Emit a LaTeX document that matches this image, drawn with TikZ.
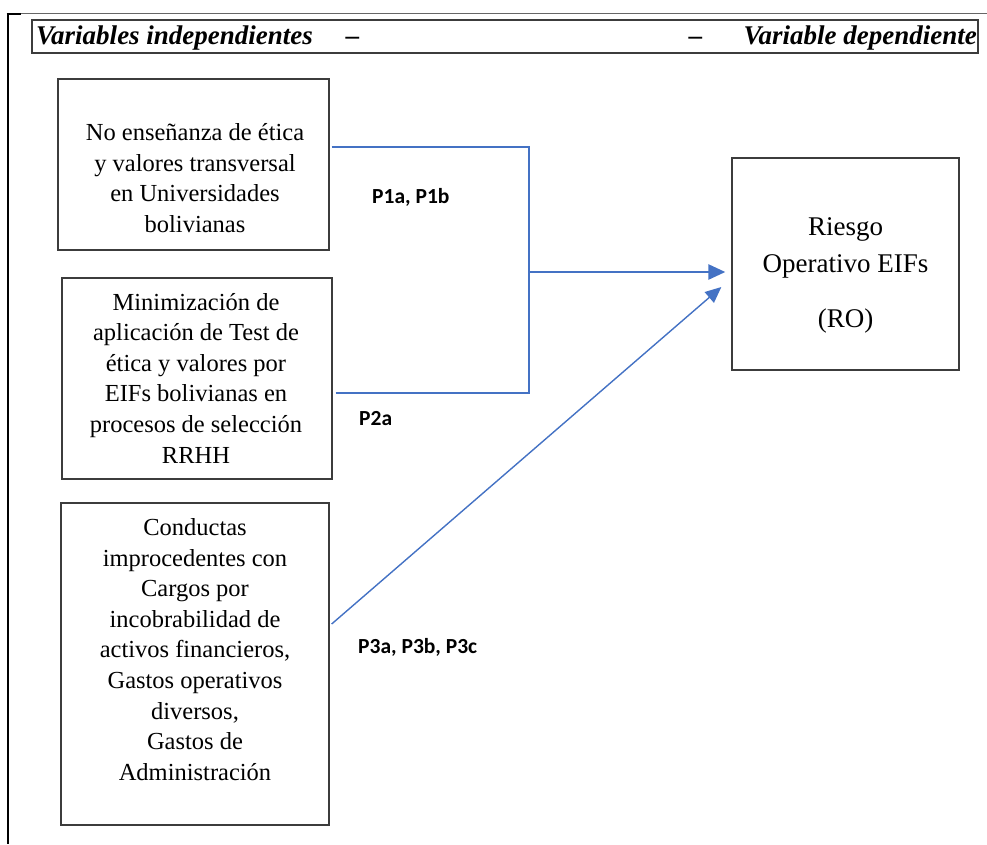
\documentclass[tikz,border=0pt]{standalone}
\usepackage{fontspec}
\setmainfont{Liberation Serif}
\newfontfamily\lblfont{Carlito}
\usetikzlibrary{arrows.meta}
\definecolor{offblue}{RGB}{68,114,196}
\definecolor{boxgray}{RGB}{60,60,60}
\begin{document}
\begin{tikzpicture}[x=1pt,y=-1pt,
  varbox/.style={draw=boxgray,line width=1.3pt,inner sep=0pt},
  boxtext/.style={align=center,inner sep=0pt,font={\rmfamily\fontsize{24.5}{30.6}\selectfont}},
  rotext/.style={align=center,inner sep=0pt,font={\rmfamily\fontsize{27}{37}\selectfont}},
  headtext/.style={inner sep=0pt,font={\rmfamily\fontsize{27}{32}\selectfont\bfseries\itshape}},
  plabel/.style={inner sep=0pt,font={\lblfont\fontsize{21.5}{25}\selectfont\bfseries}},
  link/.style={draw=offblue,line width=1.4pt},
  bigarrow/.style={draw=offblue,line width=2.6pt,-{Triangle[length=17pt,width=15pt]},fill=offblue},
  thinarrow/.style={draw=offblue,line width=1.4pt,-{Triangle[length=16pt,width=14pt]},fill=offblue}]
\useasboundingbox (0,0) rectangle (987,844);
% outer frame
\draw[draw=gray!80!black,line width=1pt] (7,13) -- (987,13);
\draw[black,line width=2pt] (7.5,13) -- (7.5,844);
\draw[black,line width=2.6pt] (6.5,14) -- (21,14);
% header
\node[draw=boxgray,line width=1.2pt,inner sep=0pt,minimum width=946pt,minimum height=33pt] (head) at (505,36.5) {};
\node[headtext,anchor=base west] (hleft) at (36,44) {Variables independientes};
\node[headtext,anchor=base] (hdash1) at (352.5,44) {–};
\node[headtext,anchor=base] (hdash2) at (695.5,44) {–};
\node[headtext,anchor=base east] (hright) at (977,44) {Variable dependiente};
% boxes
\node[varbox,minimum width=271pt,minimum height=171pt] (b1) at (193.5,164.5) {};
\node[boxtext] (t1) at (195,178) {No enseñanza de ética\\y valores transversal\\en Universidades\\bolivianas};
\node[varbox,minimum width=270pt,minimum height=201pt] (b2) at (197,378.5) {};
\node[boxtext] (t2) at (196,378) {Minimización de\\aplicación de Test de\\ética y valores por\\EIFs bolivianas en\\procesos de selección\\RRHH};
\node[varbox,minimum width=268pt,minimum height=322pt] (b3) at (195,664) {};
\node[boxtext] (t3) at (195,649.5) {Conductas\\improcedentes con\\Cargos por\\incobrabilidad de\\activos financieros,\\Gastos operativos\\diversos,\\Gastos de\\Administración};
\node[varbox,minimum width=227pt,minimum height=212pt] (ro) at (845.5,264) {};
\node[rotext] (trt) at (845.5,275) {Riesgo\\Operativo EIFs\\[18pt](RO)};
% connectors
\coordinate (j) at (529,272);
\draw[link] ([xshift=2pt,yshift=17.5pt]b1.east) -| (j);
\draw[link] ([xshift=3pt,yshift=-14.5pt]b2.east) -| (j);
\draw[bigarrow] (j) -- ([xshift=-6pt,yshift=-8pt]ro.west);
\draw[thinarrow] ([xshift=2pt,yshift=40pt]b3.east) -- ([xshift=-10pt,yshift=-23pt]ro.west);
% labels
\node[plabel,anchor=base west] (p1) at (372,203) {P1a, P1b};
\node[plabel,anchor=base west] (p2) at (359,425) {P2a};
\node[plabel,anchor=base west] (p3) at (358,653) {P3a, P3b, P3c};
\end{tikzpicture}
\end{document}
